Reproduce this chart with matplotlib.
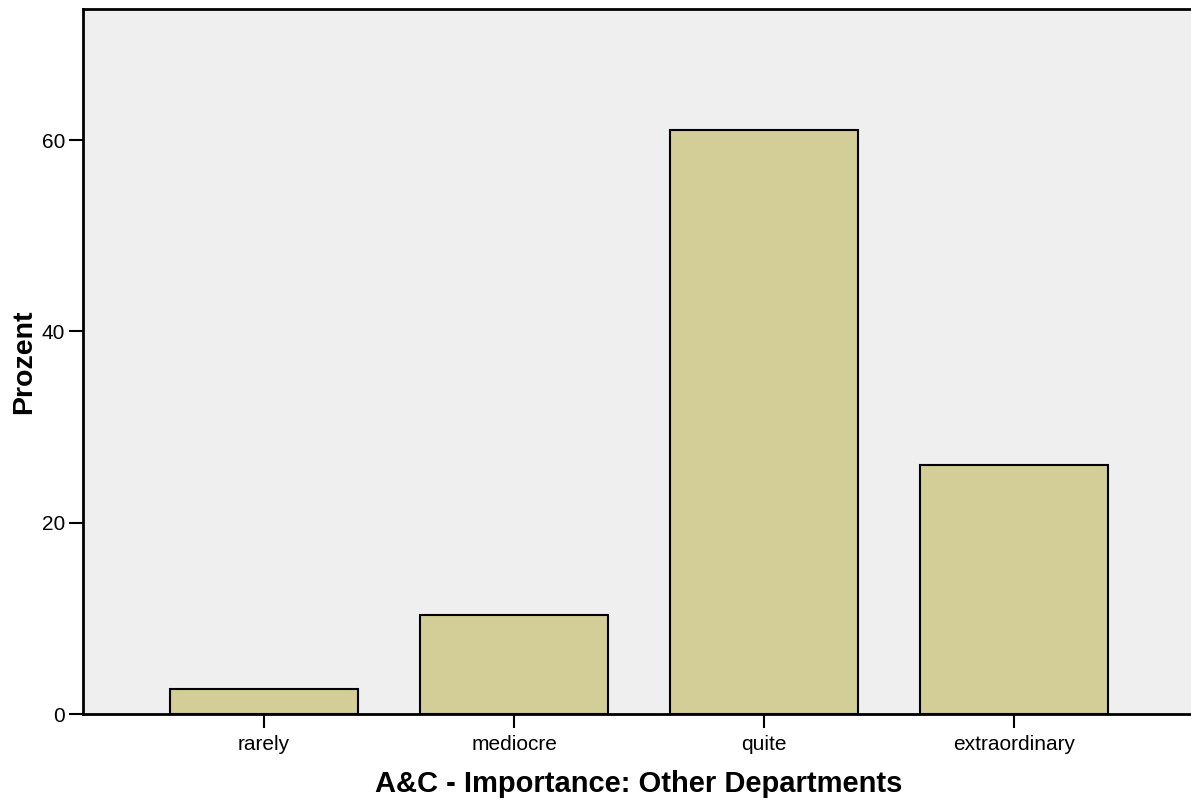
import matplotlib
matplotlib.use("Agg")
import matplotlib.pyplot as plt

# Percent per answer category
categories = ["rarely", "mediocre", "quite", "extraordinary"]
percent = [2.6, 10.4, 61.0, 26.0]
yticks = [0, 20, 40, 60]

plt.rcParams['font.family'] = ['Liberation Sans', 'DejaVu Sans']

fig = plt.figure(figsize=(11.91, 8.0), dpi=100)
ax = fig.add_axes([0.0697, 0.1075, 0.9337, 0.8813])
ax.set_facecolor('#efefef')

x = range(len(categories))
ax.bar(x, percent, width=0.75, color='#d3ce97', edgecolor='black', linewidth=1.5, zorder=2)

ax.set_xlim(-0.724, 3.724)
ax.set_ylim(0, 73.7)
ax.set_xticks(list(x))
ax.set_xticklabels(categories)
ax.set_yticks(yticks)

for s in ax.spines.values():
    s.set_linewidth(2)
ax.spines['right'].set_visible(False)

ax.tick_params(axis='both', direction='out', length=10, width=1.5, labelsize=15)
ax.tick_params(axis='x', pad=5)
ax.tick_params(axis='y', pad=3)
ax.set_xlabel('A&C - Importance: Other Departments', fontsize=21, fontweight='bold', labelpad=12)
ax.set_ylabel('Prozent', fontsize=20.5, fontweight='bold', labelpad=3)

fig.savefig('out.png', dpi=100)
